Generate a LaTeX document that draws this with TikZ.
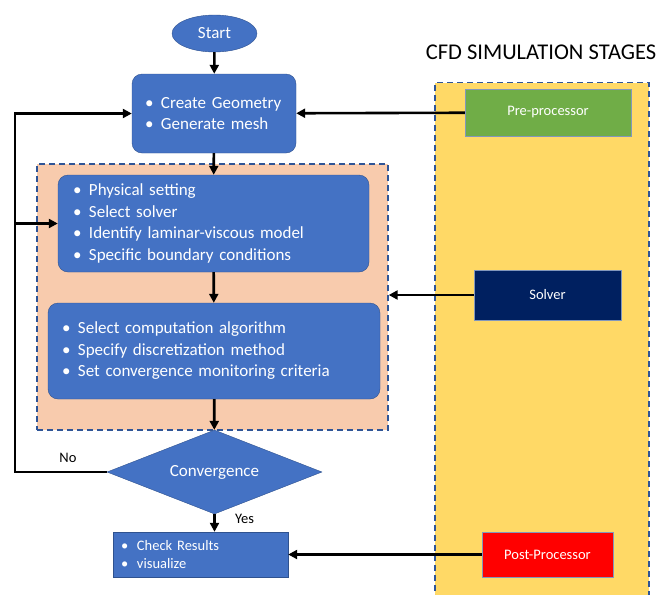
\documentclass[tikz,border=0pt]{standalone}
\usepackage{fontspec}
\setmainfont{Carlito}
\usetikzlibrary{arrows.meta, positioning, shapes.geometric, calc}

\definecolor{boxblue}{HTML}{4472C4}
\definecolor{boxedge}{HTML}{2F528F}
\definecolor{dashblue}{HTML}{2F5597}
\definecolor{peach}{HTML}{F8CBAD}
\definecolor{gold}{HTML}{FFD966}
\definecolor{leaf}{HTML}{70AD47}
\definecolor{navy}{HTML}{002060}
\newcommand{\itm}[1]{\makebox[16pt][l]{\textbullet}#1}

\begin{document}
\begin{tikzpicture}[x=1pt, y=-1pt,
    arr/.style={-{Triangle[length=9pt,width=9pt]}, line width=2.6pt},
    flow/.style={draw=boxedge, fill=boxblue, text=white, rounded corners=10pt,
      align=left, font=\fontsize{17}{21.5}\selectfont},
    stage/.style={draw=boxedge!60, text=white, font=\fontsize{14.5}{17}\selectfont},
    region/.style={draw=dashblue, dash pattern=on 6pt off 4pt, line width=1.4pt},
    lbl/.style={font=\fontsize{14.5}{17}\selectfont}]
      \clip (0,0) rectangle (657,595);

      % shaded areas
      \node[region, fill=peach, minimum width=351pt, minimum height=266pt] (setup) at (212.5,297) {};
      \node[region, fill=gold, minimum width=214pt, minimum height=540pt, anchor=north] (stages) at (542,82) {};
      \node[font=\fontsize{22.5}{25}\selectfont] (title) at (541,52) {CFD SIMULATION STAGES};

      % flow chart
      \node[ellipse, draw=boxedge, fill=boxblue, text=white, minimum width=85pt, minimum height=37pt,
        inner sep=0pt, font=\fontsize{17}{20}\selectfont] (start) at (214.5,33.5) {Start};
      \node[flow, text width=138pt, inner xsep=13pt, minimum height=79pt] (geom) at (214,113.5)
        {\itm{Create Geometry}\\ \itm{Generate mesh}};
      \node[flow, text width=281pt, inner xsep=15pt, minimum height=97pt] (phys) at (213.5,223.5)
        {\itm{Physical setting}\\ \itm{Select solver}\\ \itm{Identify laminar-viscous model}\\ \itm{Specific boundary conditions}};
      \node[flow, text width=304pt, inner xsep=14pt, minimum height=96pt] (algo) at (214,351)
        {\itm{Select computation algorithm}\\ \itm{Specify discretization method}\\ \itm{Set convergence monitoring criteria}};
      \node[diamond, aspect=2.56, draw=boxedge, fill=boxblue, text=white, minimum width=215pt, minimum height=84pt,
        inner sep=0pt, font=\fontsize{17}{20}\selectfont] (conv) at (214.5,472) {Convergence};
      \node[flow, sharp corners, text width=159pt, inner xsep=8pt, minimum height=45pt,
        font=\fontsize{14.5}{17.7}\selectfont] (check) at (200.5,554.5)
        {\itm{Check Results}\\ \itm{visualize}};

      % stages
      \node[stage, fill=leaf, minimum width=166pt, minimum height=47pt] (pre) at (548,112.5) {Pre-processor};
      \node[stage, fill=navy, minimum width=147pt, minimum height=50pt] (solver) at (547.5,295) {Solver};
      \node[stage, fill=red, minimum width=131pt, minimum height=45pt] (post) at (547.5,554.5) {Post-Processor};

      \coordinate (loop) at (15,0);

      \draw[arr] (start) -- (geom);
      \draw[arr] (geom) -- (phys);
      \draw[arr] (phys) -- (algo);
      \draw[arr] (algo) -- (conv);
      \draw[arr] (conv.south) -- (conv.south |- check.north) node[lbl, midway, right=16pt, yshift=4pt] {Yes};
      \draw[arr] (conv.west) -| (loop |- geom.west) -- (geom.west);
      \draw[arr] (loop |- phys.west) -- (phys.west);
      \node[lbl] (no) at (68,458) {No};

      \draw[arr] (pre) -- (geom);
      \draw[arr] (solver.west) -- (setup.east |- solver.west);
      \draw[arr] (post) -- (check);
    \end{tikzpicture}
\end{document}
